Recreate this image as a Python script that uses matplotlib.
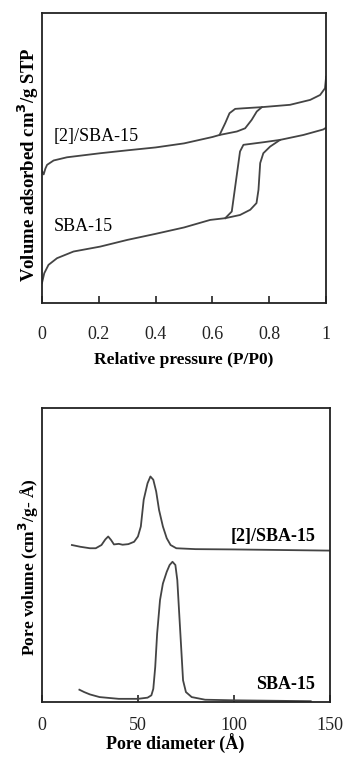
import matplotlib
matplotlib.use("Agg")
import matplotlib.pyplot as plt

plt.rcParams['font.family'] = ['Liberation Serif', 'DejaVu Serif']

# --- isotherms (relative pressure vs volume adsorbed, arbitrary units) ---
sba_ads_p = [0.0, 0.008, 0.023, 0.053, 0.111, 0.205, 0.3, 0.4, 0.5, 0.592, 0.645,
             0.697, 0.733, 0.755, 0.762, 0.768, 0.779, 0.803, 0.838, 0.92, 0.99, 1.0]
sba_ads_v = [6.8, 10.2, 13.1, 15.4, 17.7, 19.4, 21.7, 23.8, 26.0, 28.6, 29.2,
             30.3, 32.1, 34.4, 39.0, 48.2, 51.6, 53.9, 56.2, 57.9, 59.8, 60.4]
sba_des_p = [0.838, 0.78, 0.709, 0.697, 0.668, 0.645]
sba_des_v = [56.2, 55.4, 54.5, 52.2, 31.5, 29.2]

mod_ads_p = [0.0, 0.006, 0.012, 0.018, 0.041, 0.088, 0.205, 0.3, 0.4, 0.5, 0.6, 0.625,
             0.686, 0.715, 0.738, 0.756, 0.774, 0.873, 0.944, 0.979, 0.996, 1.0]
mod_ads_v = [45.5, 44.3, 46.3, 47.6, 49.1, 50.2, 51.6, 52.6, 53.6, 55.0, 57.2, 57.9,
             59.1, 60.2, 63.1, 66.0, 67.5, 68.3, 70.0, 71.7, 74.0, 78.0]
mod_des_p = [0.774, 0.709, 0.68, 0.66, 0.645, 0.625]
mod_des_v = [67.5, 67.1, 66.9, 65.4, 62.0, 57.9]

# --- pore size distributions ---
mod_d = [15.6, 20, 25, 28, 31, 33, 34.5, 36, 37.5, 40, 42, 45, 48, 50, 51.5, 53, 55,
         56.5, 58, 59.5, 61, 63, 65, 67, 70, 80, 100, 150]
mod_v = [53.4, 52.8, 52.3, 52.3, 53.4, 55.3, 56.3, 55.1, 53.6, 53.8, 53.5, 53.7, 54.5,
         56.3, 59.7, 68.8, 74.4, 76.7, 75.6, 71.6, 65.3, 59.7, 55.7, 53.4, 52.3, 52.0,
         51.9, 51.5]
sba_d = [19.5, 22, 25, 30, 40, 50, 55, 57, 58, 59, 60, 61.5, 63, 65, 66.5, 68, 69.5,
         70.5, 71.5, 72.5, 73.5, 75, 78, 85, 100, 140]
sba_v = [4.2, 3.4, 2.6, 1.7, 1.1, 1.1, 1.5, 2.3, 4.5, 11.9, 23.3, 34.7, 40.3, 44.3,
         46.6, 47.7, 46.6, 41.5, 30.1, 18.8, 7.4, 3.4, 1.7, 0.8, 0.6, 0.3]

p_ticks = [0, 0.2, 0.4, 0.6, 0.8, 1.0]
p_labels = ['0', '0.2', '0.4', '0.6', '0.8', '1']
d_ticks = [0, 50, 100, 150]

lc = '#444444'
lw = 1.3

fig = plt.figure(figsize=(3.44, 7.59), dpi=100)

ax1 = fig.add_axes([0.122, 0.601, 0.826, 0.382])
ax1.plot(sba_ads_p, sba_ads_v, color=lc, lw=lw)
ax1.plot(sba_des_p, sba_des_v, color=lc, lw=lw)
ax1.plot(mod_ads_p, mod_ads_v, color=lc, lw=lw)
ax1.plot(mod_des_p, mod_des_v, color=lc, lw=lw)
ax1.set_xlim(0, 1)
ax1.set_ylim(0, 100)
ax1.set_xticks(p_ticks)
ax1.set_xticklabels(p_labels)
ax1.set_yticks([])
ax1.text(0.04, 57.3, '[2]/SBA-15', fontsize=13, va='center', ha='left')
ax1.text(0.04, 26.4, 'SBA-15', fontsize=13, va='center', ha='left')
ax1.set_xlabel('Relative pressure (P/P0)', fontsize=12.5, fontweight='bold', labelpad=7)
ax1.set_ylabel('Volume adsorbed cm$^\\mathbf{3}$/g STP', fontsize=13.5, fontweight='bold')
ax1.yaxis.set_label_coords(-0.004, 0.478)

ax2 = fig.add_axes([0.122, 0.075, 0.837, 0.3875])
ax2.plot(mod_d, mod_v, color=lc, lw=lw)
ax2.plot(sba_d, sba_v, color=lc, lw=lw)
ax2.set_xlim(0, 150)
ax2.set_ylim(0, 100)
ax2.set_xticks(d_ticks)
ax2.set_yticks([])
ax2.text(120.6, 56.3, '[2]/SBA-15', fontsize=13, fontweight='bold', va='center', ha='center')
ax2.text(127, 6.0, 'SBA-15', fontsize=13, fontweight='bold', va='center', ha='center')
ax2.set_xlabel('Pore diameter (Å)', fontsize=13, fontweight='bold')
ax2.xaxis.set_label_coords(0.4635, -0.11)
ax2.set_ylabel('Pore volume (cm$^\\mathbf{3}$/g- Å)', fontsize=12.5, fontweight='bold')
ax2.yaxis.set_label_coords(-0.004, 0.459)

for ax in (ax1, ax2):
    for s in ax.spines.values():
        s.set_color('#222222')
        s.set_linewidth(1.3)
    ax.tick_params(axis='x', direction='in', length=5, width=1.2, labelsize=13,
                   colors='#222222')
ax1.tick_params(axis='x', pad=16.5)
ax2.tick_params(axis='x', pad=11)

fig.savefig('out.png', dpi=100)
